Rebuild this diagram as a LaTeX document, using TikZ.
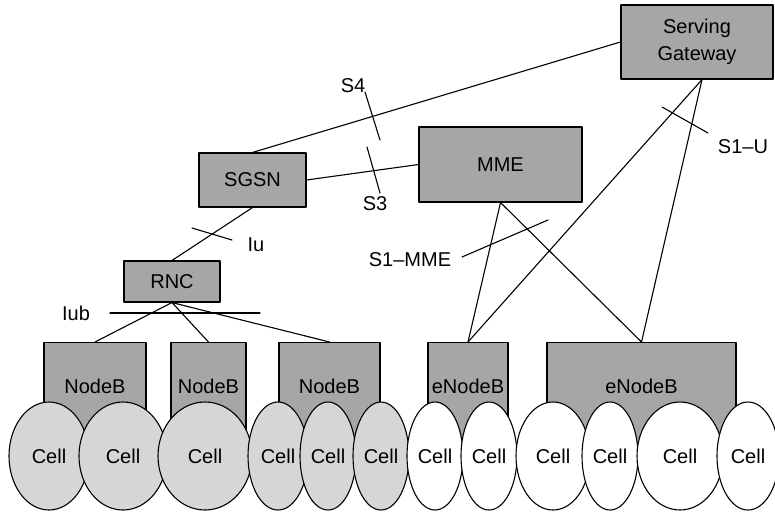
\documentclass[tikz,border=0pt]{standalone}
\usepackage{fontspec}
\setmainfont{Liberation Sans}
\usetikzlibrary{shapes.geometric}
\definecolor{boxgray}{gray}{0.65}
\definecolor{cellgray}{gray}{0.84}
\begin{document}
\begin{tikzpicture}[x=1pt, y=-1pt, font=\fontsize{20}{27}\selectfont, line join=round, line cap=round, line width=1.1pt,
	netbox/.style={draw, fill=boxgray, inner sep=0pt},
	basebox/.style={netbox, anchor=north, text height=51pt, text depth=52pt},
	cell/.style={draw, ellipse, fill=#1, inner sep=0pt, minimum height=108pt}]
	\useasboundingbox (0,0) rectangle (775,512);
	% core
	\node[netbox, minimum width=152pt, minimum height=74pt, align=center] (sgw) at (697,42) {Serving\\Gateway};
	\node[netbox, minimum width=163pt, minimum height=75pt] (mme) at (500.5,164.5) {MME};
	\node[netbox, minimum width=107pt, minimum height=54pt] (sgsn) at (252.5,180) {SGSN};
	\node[netbox, minimum width=96pt, minimum height=41pt] (rnc) at (172,281.5) {RNC};
	% base stations
	\node[basebox, minimum width=102pt] (nb1) at (95,342) {NodeB};
	\node[basebox, minimum width=75pt] (nb2) at (208.5,342) {NodeB};
	\node[basebox, minimum width=101pt] (nb3) at (329.5,342) {NodeB};
	\node[basebox, minimum width=80pt] (enb1) at (468,342) {eNodeB};
	\node[basebox, minimum width=189pt] (enb2) at (641.5,342) {eNodeB};
	% cells
	\foreach \x/\w/\f [count=\i] in {49/80/cellgray, 123/88/cellgray, 205/94/cellgray, 278/60/cellgray, 328/56/cellgray, 381/56/cellgray, 435/56/white, 489/56/white, 553/74/white, 610/56/white, 680/86/white, 748/62/white}
		\node[cell=\f, minimum width=\w pt] (c\i) at (\x,456) {Cell};
	% interfaces
	\draw (sgsn.north) -- (sgw.west);
	\draw (sgsn.east) -- (mme.west);
	\draw (sgsn.south) -- (rnc.north);
	\draw (rnc.south) -- (nb1.north);
	\draw (rnc.south) -- (nb2.north);
	\draw (rnc.south) -- (nb3.north);
	\draw (mme.south) -- (enb1.north);
	\draw (mme.south) -- (enb2.north);
	\draw ([xshift=5pt]sgw.south) -- (enb1.north);
	\draw ([xshift=5pt]sgw.south) -- (enb2.north);
	% labels
	\node (iub) at (76,313) {Iub};
	\node (iu) at (256,245) {Iu};
	\node (s4) at (353,86) {S4};
	\node (s3) at (375,204) {S3};
	\node (s1mme) at (410,260) {S1--MME};
	\node (s1u) at (743,147) {S1--U};
	\draw (110,313) -- (260,313);
	\draw (192,228) -- (232,240);
	\draw (365,92) -- (380,140);
	\draw (367,147) -- (380,193);
	\draw (462,257) -- (548,220);
	\draw (662,107) -- (708,133);
\end{tikzpicture}
\end{document}
